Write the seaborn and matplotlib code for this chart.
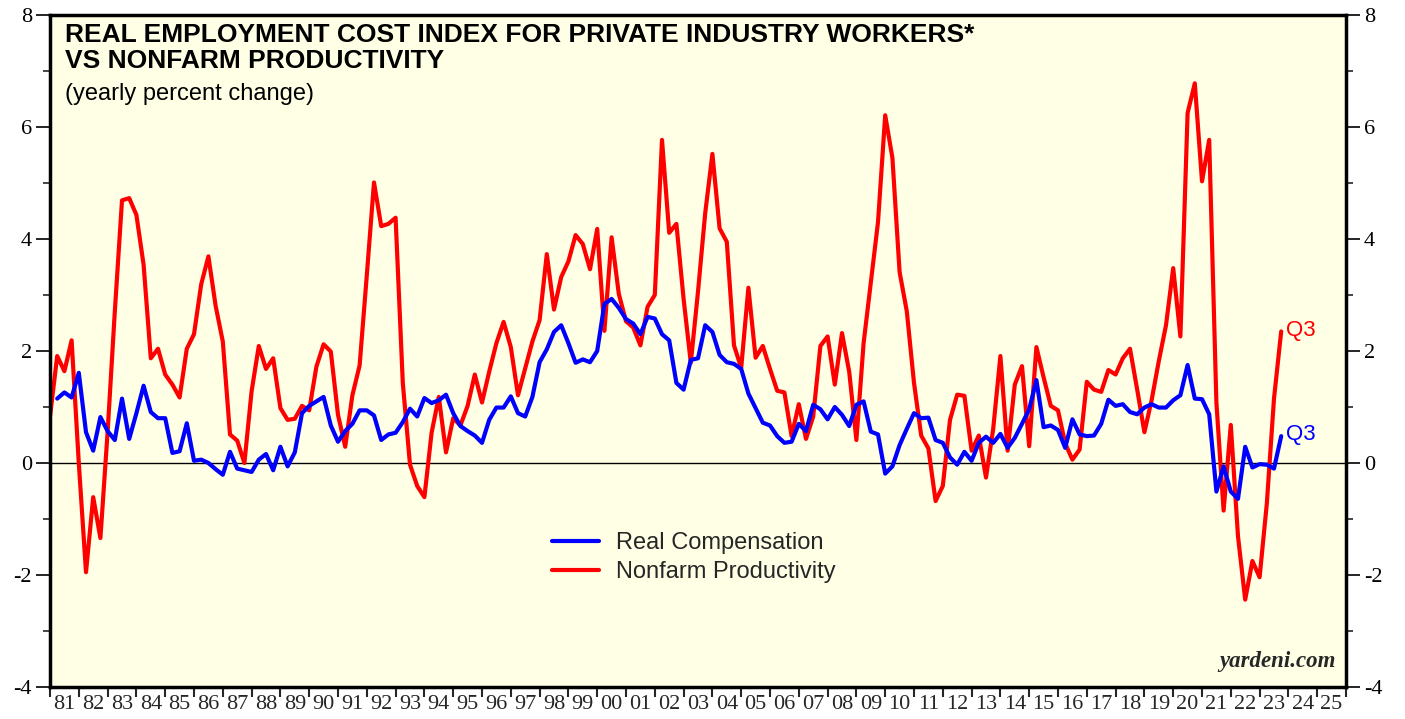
import numpy as np
import pandas as pd
import matplotlib
matplotlib.use("Agg")
import matplotlib.pyplot as plt
import seaborn as sns
from matplotlib.ticker import MultipleLocator, FixedLocator

# ---------------- data (yearly % change, quarterly) ----------------
red_start = "1980Q4"
productivity = [
    0.83, 1.91, 1.64, 2.19, 0.0, -1.95, -0.61, -1.34, 0.55, 2.7,
    4.69, 4.73, 4.43, 3.54, 1.87, 2.04, 1.58, 1.40, 1.17, 2.04,
    2.30, 3.19, 3.69, 2.81, 2.17, 0.51, 0.40, 0.0, 1.28, 2.09,
    1.68, 1.87, 0.98, 0.77, 0.79, 1.02, 0.94, 1.72, 2.12, 1.99,
    0.86, 0.29, 1.21, 1.74, 3.35, 5.01, 4.23, 4.27, 4.38, 1.43,
    -0.03, -0.41, -0.61, 0.54, 1.18, 0.19, 0.80, 0.67, 1.02, 1.58,
    1.08, 1.63, 2.14, 2.52, 2.07, 1.21, 1.69, 2.17, 2.55, 3.73,
    2.74, 3.32, 3.60, 4.07, 3.91, 3.46, 4.18, 2.36, 4.03, 3.02,
    2.53, 2.42, 2.10, 2.79, 3.00, 5.77, 4.11, 4.27, 2.93, 1.79,
    3.06, 4.46, 5.52, 4.19, 3.95, 2.10, 1.70, 3.13, 1.88, 2.09,
    1.68, 1.29, 1.26, 0.48, 1.05, 0.43, 0.83, 2.09, 2.26, 1.40,
    2.32, 1.63, 0.41, 2.14, 3.22, 4.30, 6.21, 5.45, 3.41, 2.71,
    1.43, 0.49, 0.26, -0.68, -0.41, 0.77, 1.22, 1.20, 0.22, 0.49,
    -0.26, 0.61, 1.91, 0.22, 1.40, 1.73, 0.30, 2.07, 1.53, 1.02,
    0.94, 0.35, 0.06, 0.24, 1.45, 1.31, 1.27, 1.66, 1.58, 1.87,
    2.04, 1.31, 0.55, 1.12, 1.82, 2.46, 3.48, 2.26, 6.25, 6.78,
    5.03, 5.77, 1.08, -0.85, 0.68, -1.31, -2.44, -1.75, -2.04, -0.73,
    1.15, 2.35,
]

blue_start = "1981Q1"
real_comp = [
    1.15, 1.26, 1.17, 1.61, 0.55, 0.22, 0.82, 0.57, 0.41, 1.15,
    0.43, 0.89, 1.38, 0.91, 0.80, 0.80, 0.18, 0.21, 0.71, 0.04,
    0.06, 0.0, -0.11, -0.21, 0.20, -0.10, -0.13, -0.16, 0.06, 0.16,
    -0.13, 0.29, -0.06, 0.19, 0.89, 1.02, 1.10, 1.18, 0.67, 0.38,
    0.57, 0.70, 0.94, 0.94, 0.85, 0.41, 0.51, 0.54, 0.73, 0.97,
    0.83, 1.16, 1.07, 1.12, 1.22, 0.89, 0.66, 0.57, 0.49, 0.36,
    0.77, 0.99, 0.99, 1.19, 0.89, 0.83, 1.18, 1.80, 2.03, 2.34,
    2.46, 2.14, 1.79, 1.85, 1.80, 2.00, 2.84, 2.93, 2.77, 2.57,
    2.49, 2.30, 2.61, 2.58, 2.30, 2.19, 1.43, 1.31, 1.84, 1.87,
    2.46, 2.34, 1.93, 1.80, 1.77, 1.68, 1.24, 0.98, 0.72, 0.67,
    0.48, 0.36, 0.38, 0.70, 0.57, 1.04, 0.96, 0.78, 1.00, 0.86,
    0.66, 1.04, 1.10, 0.56, 0.51, -0.19, -0.06, 0.32, 0.61, 0.89,
    0.80, 0.81, 0.41, 0.36, 0.10, -0.03, 0.20, 0.04, 0.36, 0.47,
    0.36, 0.52, 0.27, 0.45, 0.70, 0.96, 1.48, 0.64, 0.67, 0.59,
    0.27, 0.78, 0.51, 0.48, 0.49, 0.70, 1.13, 1.02, 1.05, 0.91,
    0.87, 0.99, 1.05, 0.99, 0.99, 1.12, 1.21, 1.75, 1.15, 1.14,
    0.87, -0.51, -0.06, -0.51, -0.64, 0.29, -0.08, -0.02, -0.03, -0.10,
    0.48,
]

year_labels = ["81", "82", "83", "84", "85", "86", "87", "88", "89", "90",
               "91", "92", "93", "94", "95", "96", "97", "98", "99", "00",
               "01", "02", "03", "04", "05", "06", "07", "08", "09", "10",
               "11", "12", "13", "14", "15", "16", "17", "18", "19", "20",
               "21", "22", "23", "24", "25"]
y_ticks = [-4, -2, 0, 2, 4, 6, 8]

title = "REAL EMPLOYMENT COST INDEX FOR PRIVATE INDUSTRY WORKERS*\nVS NONFARM PRODUCTIVITY"
subtitle = "(yearly percent change)"
series_names = ["Real Compensation", "Nonfarm Productivity"]


def quarter_end_years(start, n):
    p = pd.period_range(start=start, periods=n, freq="Q")
    return p.year + p.quarter / 4.0


df_red = pd.DataFrame({"date": quarter_end_years(red_start, len(productivity)),
                       "value": productivity})
df_blue = pd.DataFrame({"date": quarter_end_years(blue_start, len(real_comp)),
                        "value": real_comp})

# ---------------- plot ----------------
sns.set_style("ticks")
plt.rcParams["font.family"] = ["Liberation Sans", "DejaVu Sans"]

W, H = 1405, 719
fig = plt.figure(figsize=(W / 100, H / 100), dpi=100)
fig.patch.set_facecolor("white")
ax = fig.add_axes([50 / W, 1 - 687 / H, (1346 - 50) / W, (687 - 15) / H])
ax.set_facecolor("#FFFFE6")

x0 = 1981
x1 = x0 + len(year_labels)

ax.axhline(0, color="black", lw=1.0, zorder=1)
sns.lineplot(data=df_red, x="date", y="value", ax=ax, color="#FF0000",
             lw=3.0, label=series_names[1], zorder=3)
sns.lineplot(data=df_blue, x="date", y="value", ax=ax, color="#0000FF",
             lw=3.0, label=series_names[0], zorder=4)

ax.set_xlim(x0, x1)
ax.set_ylim(min(y_ticks), max(y_ticks))
ax.set_xlabel("")
ax.set_ylabel("")

# y ticks both sides
ax.yaxis.set_major_locator(FixedLocator(y_ticks))
ax.yaxis.set_minor_locator(MultipleLocator(1))
ax.tick_params(axis="y", which="major", direction="out", length=10, width=1.2,
               left=True, right=True, labelleft=True, labelright=True,
               labelsize=16, pad=3, colors="black")
ax.tick_params(axis="y", which="minor", direction="out", length=5, width=1.2,
               left=True, right=True)
ax.set_yticklabels([str(t) for t in y_ticks])
for lab in ax.yaxis.get_ticklabels() + [t.label2 for t in ax.yaxis.get_major_ticks()]:
    lab.set_family("Liberation Serif")

# x ticks: marks at year boundaries, labels centered
ax.xaxis.set_major_locator(FixedLocator(np.arange(x0, x1 + 1)))
ax.xaxis.set_minor_locator(FixedLocator(np.arange(x0, x1) + 0.5))
ax.set_xticklabels([""] * (x1 - x0 + 1))
ax.set_xticklabels(year_labels, minor=True, family="Liberation Serif")
ax.tick_params(axis="x", which="major", direction="out", length=7, width=1.5,
               bottom=True, top=False)
ax.tick_params(axis="x", which="minor", length=0, labelsize=16, pad=6)

for s in ax.spines.values():
    s.set_linewidth(2.5)
    s.set_color("black")
    s.set_zorder(6)

# legend
handles, labels = ax.get_legend_handles_labels()
order = [labels.index(series_names[0]), labels.index(series_names[1])]
leg = ax.legend([handles[i] for i in order], [labels[i] for i in order],
                loc="upper left", bbox_to_anchor=(0.371, 0.262), frameon=False,
                fontsize=17, handlelength=2.0, handletextpad=0.7,
                labelspacing=0.3)
for line in leg.get_lines():
    line.set_linewidth(3.0)

# titles
ax.text(15 / (1346 - 50), 1 - 8 / 672, title, transform=ax.transAxes,
        ha="left", va="top", fontsize=19, fontweight="bold",
        linespacing=1.1, color="black")
ax.text(15 / (1346 - 50), 1 - 68 / 672, subtitle, transform=ax.transAxes,
        ha="left", va="top", fontsize=17, color="black")

# end labels
ax.text(df_red["date"].iloc[-1] + 0.15, productivity[-1] + 0.02, "Q3", color="#FF0000",
        fontsize=16, ha="left", va="center")
ax.text(df_blue["date"].iloc[-1] + 0.15, real_comp[-1] + 0.02, "Q3", color="#0000FF",
        fontsize=16, ha="left", va="center")

ax.text(0.992, 0.022, "yardeni.com", transform=ax.transAxes, ha="right",
        va="bottom", fontsize=16.5, fontweight="bold", fontstyle="italic",
        family="Liberation Serif")

fig.savefig("out.png", dpi=100, facecolor="white")
